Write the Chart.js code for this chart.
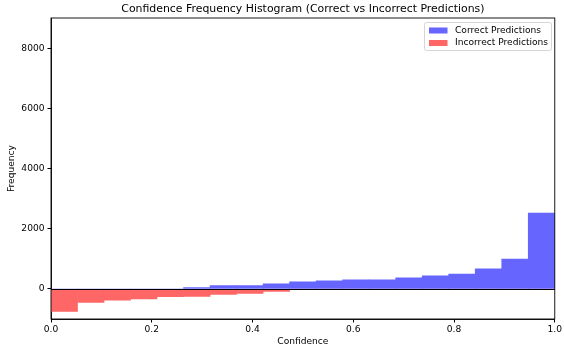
<!DOCTYPE html>
<html>
<head>
<meta charset="utf-8">
<script src="https://cdn.jsdelivr.net/npm/chart.js@4.4.1/dist/chart.umd.min.js"></script>
<style>
  html, body { margin: 0; padding: 0; background: #fff; }
  #wrap { width: 564px; height: 353px; }
</style>
</head>
<body>
<div id="wrap"><canvas id="histChart" width="564" height="353"></canvas></div>
<script>
// 19 equal bins between 0 and 1
const binCount = 19;
const binCenters = Array.from({ length: binCount }, (_, i) => (i + 0.5) / binCount);

const correctCounts = [0, 0, 0, 0, 0, 45, 110, 110, 175, 240, 275, 305, 305, 375, 440, 500, 670, 1000, 2530];
const incorrectCounts = [-745, -450, -370, -335, -260, -250, -185, -150, -85, 0, 0, 0, 0, 0, 0, 0, 0, 0, 0];

const xTicks = [0, 0.2, 0.4, 0.6, 0.8, 1.0];
const yTicks = [0, 2000, 4000, 6000, 8000];

const chartTitle = 'Confidence Frequency Histogram (Correct vs Incorrect Predictions)';
const legendLabels = ['Correct Predictions', 'Incorrect Predictions'];
const blueFill = '#6666ff';
const redFill = '#ff6666';

const FONT = 'DejaVu Sans';
const SMALL = 9.1;

// title over the plot, box around the plot, zero line and the boxed legend
const framePlugin = {
  id: 'frame',
  afterDatasetsDraw(chart) {
    const { ctx, chartArea: a, scales } = chart;
    const y0 = Math.round(scales.y.getPixelForValue(0)) + 0.5;
    ctx.save();
    ctx.strokeStyle = '#000';
    ctx.lineWidth = 1;
    ctx.beginPath();
    ctx.moveTo(a.left, y0);
    ctx.lineTo(a.right, y0);
    ctx.stroke();
    ctx.lineWidth = 0.9;
    ctx.strokeRect(a.left, a.top, a.right - a.left, a.bottom - a.top);
    ctx.restore();
  },
  afterDraw(chart) {
    const { ctx, chartArea: a } = chart;
    ctx.save();
    ctx.fillStyle = '#000';
    ctx.font = '10.9px "' + FONT + '"';
    ctx.textAlign = 'center';
    ctx.textBaseline = 'middle';
    ctx.fillText(chartTitle, (a.left + a.right) / 2, 9);

    ctx.fillStyle = 'rgba(255,255,255,0.8)';
    ctx.strokeStyle = '#cccccc';
    ctx.lineWidth = 0.8;
    ctx.beginPath();
    ctx.roundRect(424.5, 22.5, 127, 28, 2);
    ctx.fill();
    ctx.stroke();
    const colors = [blueFill, redFill];
    ctx.font = SMALL + 'px "' + FONT + '"';
    ctx.textAlign = 'left';
    legendLabels.forEach((label, i) => {
      const cy = 30.5 + i * 12.5;
      ctx.fillStyle = colors[i];
      ctx.fillRect(429, cy - 3, 18.5, 6);
      ctx.fillStyle = '#000';
      ctx.fillText(label, 455, cy);
    });
    ctx.restore();
  }
};

const ctx = document.getElementById('histChart').getContext('2d');

const histChart = new Chart(ctx, {
  type: 'bar',
  data: {
    datasets: [
      {
        label: legendLabels[0],
        data: binCenters.map((x, i) => ({ x, y: correctCounts[i] })),
        backgroundColor: blueFill,
        borderWidth: 0,
        grouped: false,
        barPercentage: 1,
        categoryPercentage: 1
      },
      {
        label: legendLabels[1],
        data: binCenters.map((x, i) => ({ x, y: incorrectCounts[i] })),
        backgroundColor: redFill,
        borderWidth: 0,
        grouped: false,
        barPercentage: 1,
        categoryPercentage: 1
      }
    ]
  },
  options: {
    responsive: false,
    animation: false,
    layout: { padding: { left: 0, right: 8, top: 18, bottom: 0 } },
    plugins: {
      legend: { display: false },
      tooltip: { enabled: false },
      title: { display: false }
    },
    scales: {
      x: {
        type: 'linear',
        min: 0,
        max: 1,
        offset: false,
        afterBuildTicks: (scale) => { scale.ticks = xTicks.map(v => ({ value: v })); },
        afterFit: (scale) => { scale.height = 34; },
        ticks: {
          color: '#000',
          font: { family: FONT, size: SMALL },
          padding: 2,
          maxRotation: 0,
          callback: (v) => Number(v).toFixed(1)
        },
        grid: { offset: false, drawOnChartArea: false, drawTicks: true, tickLength: 3.5, tickColor: '#000' },
        border: { color: '#000', width: 0.9 },
        title: {
          display: true,
          text: 'Confidence',
          color: '#000',
          font: { family: FONT, size: SMALL },
          padding: { top: 0, bottom: 5.5 }
        }
      },
      y: {
        min: -1000,
        max: 9030,
        afterBuildTicks: (scale) => { scale.ticks = yTicks.map(v => ({ value: v })); },
        afterFit: (scale) => { scale.width = 51; },
        ticks: {
          color: '#000',
          font: { family: FONT, size: SMALL },
          padding: 3,
          callback: (v) => String(v)
        },
        grid: { drawOnChartArea: false, drawTicks: true, tickLength: 3.5, tickColor: '#000' },
        border: { color: '#000', width: 0.9 },
        title: {
          display: true,
          text: 'Frequency',
          color: '#000',
          font: { family: FONT, size: SMALL },
          padding: { top: 6, bottom: 0 }
        }
      }
    }
  },
  plugins: [framePlugin]
});
</script>
</body>
</html>
